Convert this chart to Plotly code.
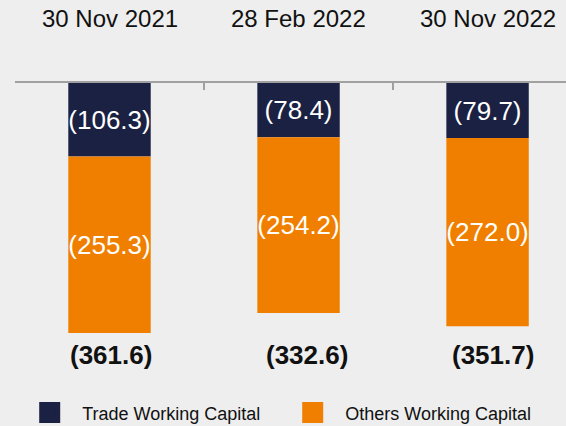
import plotly.graph_objects as go

categories = ["30 Nov 2021", "28 Feb 2022", "30 Nov 2022"]
trade_wc = [106.3, 78.4, 79.7]
others_wc = [255.3, 254.2, 272.0]
totals = [361.6, 332.6, 351.7]
series_names = ["Trade Working Capital", "Others Working Capital"]

NAVY = "#1B2142"
ORANGE = "#F07F00"
BG = "#EEEEEE"
FONT = "Liberation Sans, Arial, sans-serif"

def fmt(v):
    return f"({v:.1f})"

fig = go.Figure()
fig.add_trace(go.Bar(
    x=categories, y=[-v for v in trade_wc], marker=dict(color=NAVY, line=dict(width=0)),
    text=[fmt(v) for v in trade_wc], textposition="inside", insidetextanchor="middle",
    textfont=dict(color="white", size=26, family=FONT), showlegend=False,
    constraintext="none", textangle=0,
))
fig.add_trace(go.Bar(
    x=categories, y=[-v for v in others_wc], marker=dict(color=ORANGE, line=dict(width=0)),
    text=[fmt(v) for v in others_wc], textposition="inside", insidetextanchor="middle",
    textfont=dict(color="white", size=26, family=FONT), showlegend=False,
    constraintext="none", textangle=0,
))
# legend entries
for name, col in zip(series_names, [NAVY, ORANGE]):
    fig.add_trace(go.Scatter(
        x=[None], y=[None], mode="markers", name=name,
        marker=dict(symbol="square", size=16, color=col, line=dict(width=5, color=col)),
    ))

annotations = []
for c in categories:
    annotations.append(dict(x=c, y=1, xref="x", yref="paper", text=c, showarrow=False,
                            yanchor="middle", yshift=65,
                            font=dict(size=24, color="#111111", family=FONT)))
total_xshift = [1, 8, 5]
for c, t, dx in zip(categories, totals, total_xshift):
    annotations.append(dict(x=c, y=0.0933, xref="x", yref="paper", text=f"<b>{fmt(t)}</b>",
                            showarrow=False, yanchor="middle", xshift=dx,
                            font=dict(size=26, color="#111111", family=FONT)))

fig.update_layout(
    width=566, height=426,
    margin=dict(l=15, r=0, t=83, b=43, autoexpand=False),
    paper_bgcolor=BG, plot_bgcolor=BG,
    barmode="relative", bargap=0.564,
    font=dict(family=FONT, color="#111111"),
    annotations=annotations,
    legend=dict(orientation="h", x=0.004, y=0.031, yref="container",
                xanchor="left", yanchor="middle",
                font=dict(size=18, color="#111111", family=FONT),
                itemwidth=55, entrywidth=193, bgcolor="rgba(0,0,0,0)"),
    xaxis=dict(type="category", side="top", range=[-0.5, 2.415], showline=True,
               linecolor="#A0A0A0", linewidth=2, ticks="inside", ticklen=7,
               tickcolor="#A0A0A0", tickwidth=2, tickson="boundaries",
               showticklabels=False, showgrid=False, zeroline=False, fixedrange=True),
    yaxis=dict(range=[-433.9, 0], visible=False, showgrid=False, zeroline=False, fixedrange=True),
)

fig.write_html("out.html", config={"displayModeBar": False},
               post_script="document.body.style.margin='0';document.body.style.overflow='hidden';")
